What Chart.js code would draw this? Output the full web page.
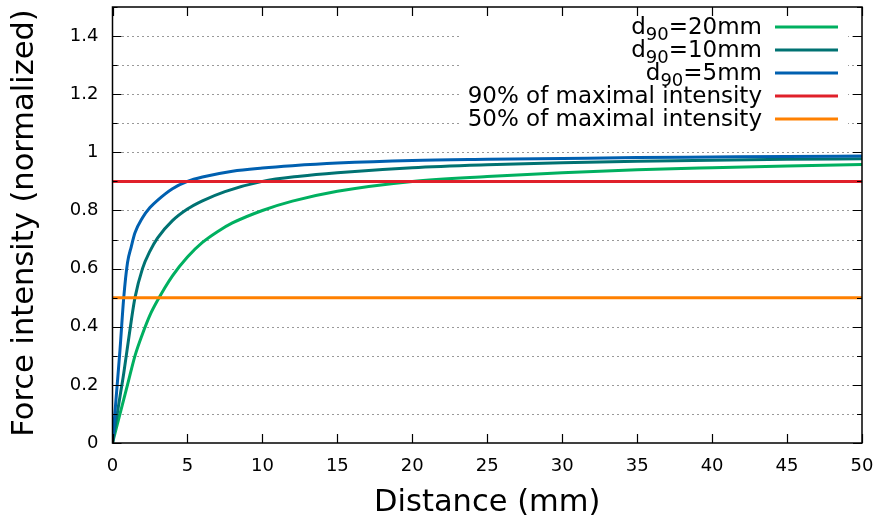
<!DOCTYPE html>
<html lang="en">
<head>
<meta charset="UTF-8">
<title>Force intensity vs distance</title>
<script src="https://cdn.jsdelivr.net/npm/chart.js"></script>
<style>
  body { margin: 0; background: #fff; }
  #chart { display: block; }
</style>
</head>
<body>
<canvas id="chart" width="877" height="520"></canvas>
<script>
// values (distance in mm, normalized force)
const dist20  = [0, 0.5, 1, 1.5, 2, 2.5, 3, 4, 5, 6, 7, 8, 10, 12, 15, 20, 25, 30, 35, 40, 45, 50];
const force20 = [0, 0.1, 0.2, 0.3, 0.375, 0.44, 0.49, 0.575, 0.64, 0.69, 0.727, 0.757, 0.80, 0.832, 0.866, 0.90, 0.917, 0.93, 0.94, 0.947, 0.953, 0.958];
const dist10  = [0, 0.25, 0.5, 0.75, 1, 1.25, 1.5, 2, 2.5, 3, 4, 5, 6, 7.5, 10, 12.5, 15, 20, 25, 30, 35, 40, 45, 50];
const force10 = [0, 0.08, 0.16, 0.24, 0.33, 0.42, 0.5, 0.6, 0.66, 0.705, 0.765, 0.805, 0.833, 0.865, 0.90, 0.918, 0.93, 0.947, 0.957, 0.964, 0.969, 0.973, 0.976, 0.978];
const dist5   = [0, 0.25, 0.5, 0.75, 1, 1.25, 1.5, 2, 2.5, 3, 4, 5, 6, 8, 10, 12, 15, 20, 25, 30, 35, 40, 45, 50];
const force5  = [0, 0.16, 0.32, 0.5, 0.62, 0.675, 0.723, 0.775, 0.81, 0.835, 0.875, 0.90, 0.915, 0.935, 0.946, 0.954, 0.963, 0.972, 0.976, 0.979, 0.982, 0.984, 0.986, 0.987];
const level90 = 0.9;
const level50 = 0.5;
const xRange = [0, 50];
const yRange = [0, 1.5];

const labels = ['d_{90}=20mm', 'd_{90}=10mm', 'd_{90}=5mm', '90% of maximal intensity', '50% of maximal intensity'];
const colors = ['#00b060', '#007272', '#0060b0', '#e0202a', '#ff8000'];

const FONT = '"DejaVu Sans", Verdana, sans-serif';

function pts(xs, ys) {
    return xs.map((x, i) => ({ x: x, y: ys[i] }));
}
function hline(v) {
    return [{ x: xRange[0], y: v }, { x: xRange[1], y: v }];
}

// gnuplot style enhanced text: "d_{90}" -> d with subscript 90
function drawRich(ctx, text, xRight, yMid, size) {
    const parts = text.split(/_\{([^}]*)\}/);
    const sub = Math.round(size * 0.8);
    let w = 0;
    parts.forEach((p, i) => {
        ctx.font = (i % 2 ? sub : size) + 'px ' + FONT;
        w += ctx.measureText(p).width;
    });
    let x = xRight - w;
    parts.forEach((p, i) => {
        ctx.font = (i % 2 ? sub : size) + 'px ' + FONT;
        ctx.fillText(p, x, yMid + (i % 2 ? size * 0.3 : 0));
        x += ctx.measureText(p).width;
    });
    return w;
}

const gnuplotFrame = {
    id: 'gnuplotFrame',
    beforeDatasetsDraw(chart) {
        const { ctx, chartArea: a, scales: { y } } = chart;
        ctx.save();
        ctx.strokeStyle = '#333';
        ctx.lineWidth = 1;
        ctx.setLineDash([1, 4]);
        y.ticks.forEach(t => {
            if (t.value <= y.min + 1e-9 || t.value >= y.max - 1e-9) return;
            const py = Math.round(y.getPixelForValue(t.value)) + 0.5;
            ctx.beginPath();
            ctx.moveTo(a.left, py);
            ctx.lineTo(a.right, py);
            ctx.stroke();
        });
        ctx.setLineDash([]);
        // key box is opaque, hides the grid
        ctx.fillStyle = '#fff';
        ctx.fillRect(462, a.top + 7, a.right - 14 - 462, 118);
        ctx.restore();
    },
    afterDraw(chart) {
        const { ctx, chartArea: a, scales: { x, y } } = chart;
        ctx.save();
        ctx.strokeStyle = '#000';
        ctx.lineWidth = 1.2;
        // inward tics
        x.ticks.forEach(t => {
            const px = Math.round(x.getPixelForValue(t.value)) + 0.5;
            ctx.beginPath();
            ctx.moveTo(px, a.bottom); ctx.lineTo(px, a.bottom - 9);
            ctx.moveTo(px, a.top); ctx.lineTo(px, a.top + 9);
            ctx.stroke();
        });
        y.ticks.forEach(t => {
            const py = Math.round(y.getPixelForValue(t.value)) + 0.5;
            const len = t.label ? 9 : 5;
            ctx.beginPath();
            ctx.moveTo(a.left, py); ctx.lineTo(a.left + len, py);
            ctx.moveTo(a.right, py); ctx.lineTo(a.right - len, py);
            ctx.stroke();
        });
        ctx.lineWidth = 1.5;
        ctx.strokeRect(a.left, a.top, a.right - a.left, a.bottom - a.top);

        // key
        ctx.fillStyle = '#000';
        ctx.textBaseline = 'middle';
        ctx.textAlign = 'left';
        chart.data.datasets.forEach((ds, i) => {
            const cy = a.top + 20 + i * 23;
            drawRich(ctx, ds.label, a.right - 100, cy + 1, 23);
            ctx.strokeStyle = ds.borderColor;
            ctx.lineWidth = 3;
            ctx.beginPath();
            ctx.moveTo(a.right - 87, cy);
            ctx.lineTo(a.right - 24, cy);
            ctx.stroke();
        });

        // axis titles
        ctx.fillStyle = '#000';
        ctx.font = '30.5px ' + FONT;
        ctx.textAlign = 'center';
        ctx.textBaseline = 'alphabetic';
        ctx.fillText('Distance (mm)', (a.left + a.right) / 2, 511);
        ctx.translate(33, (a.top + a.bottom) / 2 - 2);
        ctx.rotate(-Math.PI / 2);
        ctx.fillText('Force intensity (normalized)', 0, 0);
        ctx.restore();
    }
};

const series = [
    pts(dist20, force20),
    pts(dist10, force10),
    pts(dist5, force5),
    hline(level90),
    hline(level50)
];

new Chart(document.getElementById('chart'), {
    type: 'scatter',
    data: {
        datasets: series.map((d, i) => ({
            label: labels[i],
            data: d,
            showLine: true,
            borderColor: colors[i],
            backgroundColor: colors[i],
            borderWidth: 3,
            pointRadius: 0,
            cubicInterpolationMode: 'monotone',
            order: series.length - i
        }))
    },
    options: {
        responsive: false,
        animation: false,
        layout: { padding: { top: 7, right: 15 } },
        plugins: {
            legend: { display: false },
            tooltip: { enabled: false }
        },
        scales: {
            x: {
                type: 'linear',
                min: xRange[0],
                max: xRange[1],
                afterFit: s => {
                    s.height = 77;
                    s.paddingLeft = 0;
                    s.paddingRight = 0;
                },
                grid: { display: false, drawTicks: false },
                border: { display: false },
                ticks: {
                    stepSize: 5,
                    padding: 13,
                    autoSkip: false,
                    maxRotation: 0,
                    color: '#000',
                    font: { family: FONT, size: 18 }
                }
            },
            y: {
                min: yRange[0],
                max: yRange[1],
                afterFit: s => {
                    s.width = 112.5;
                    s.paddingTop = 0;
                    s.paddingBottom = 0;
                },
                grid: { display: false, drawTicks: false },
                border: { display: false },
                ticks: {
                    stepSize: 0.1,
                    padding: 14,
                    autoSkip: false,
                    color: '#000',
                    font: { family: FONT, size: 18 },
                    callback: v => {
                        const n = Math.round(v * 10);
                        if (n % 2 !== 0) return '';
                        return n % 10 === 0 ? String(n / 10) : (n / 10).toFixed(1);
                    }
                }
            }
        }
    },
    plugins: [gnuplotFrame]
});
</script>
</body>
</html>
